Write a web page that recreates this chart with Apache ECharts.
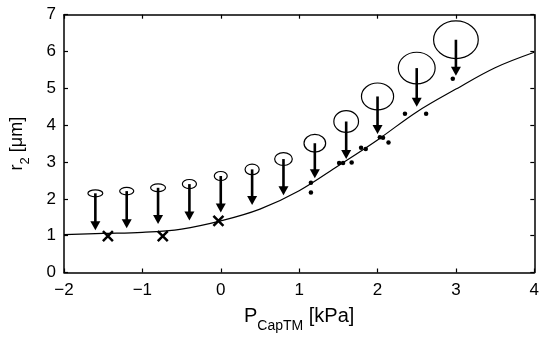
<!DOCTYPE html>
<html>
<head>
<meta charset="utf-8">
<script src="https://cdn.jsdelivr.net/npm/echarts@6/dist/echarts.min.js"></script>
<style>html,body{margin:0;padding:0;background:#fff}#c{width:547px;height:344px}</style>
</head>
<body>
<div id="c"></div>
<script>
// Fitted curve
const curveX = [-2, -1.5, -1, -0.5, 0, 0.5, 1, 1.5, 2, 2.5, 3, 3.5, 4];
const curveY = [1.03, 1.06, 1.09, 1.18, 1.40, 1.72, 2.22, 2.90, 3.60, 4.36, 4.98, 5.56, 5.98];

// Ellipses with arrows: x position, ellipse centre, arrow tip, ellipse width (kPa), ellipse height (um)
const ellX   = [-1.6, -1.2, -0.8, -0.4, 0, 0.4, 0.8, 1.2, 1.6, 2.0, 2.5, 3.0];
const ellY   = [2.15, 2.21, 2.30, 2.40, 2.62, 2.80, 3.08, 3.51, 4.10, 4.78, 5.55, 6.32];
const tipY   = [1.15, 1.20, 1.32, 1.41, 1.63, 1.83, 2.10, 2.56, 3.08, 3.76, 4.50, 5.34];
const ellW   = [0.19, 0.18, 0.19, 0.18, 0.165, 0.18, 0.225, 0.276, 0.315, 0.41, 0.47, 0.57];
const ellH   = [0.19, 0.20, 0.21, 0.25, 0.245, 0.29, 0.35, 0.48, 0.59, 0.73, 0.86, 1.02];

// Crosses
const crossX = [-1.44, -0.74, -0.03];
const crossY = [0.99, 0.99, 1.40];

// Dots
const dotX = [1.15, 1.15, 1.51, 1.56, 1.67, 1.79, 1.85, 2.03, 2.07, 2.14, 2.35, 2.62, 2.96];
const dotY = [2.44, 2.17, 2.97, 2.97, 2.99, 3.39, 3.35, 3.67, 3.66, 3.53, 4.31, 4.31, 5.26];

// Axis ticks
const xTicks = {min: -2, max: 4, step: 1};
const yTicks = {min: 0, max: 7, step: 1};

const FONT = 'Liberation Sans, Arial, sans-serif';
const chart = echarts.init(document.getElementById('c'));

const axisLine = {onZero: false, lineStyle: {color: '#000', width: 1.5}};
const axisTick = {inside: true, length: 4, lineStyle: {color: '#000', width: 1.2}};
const fmt = v => v < 0 ? '\u2212' + (-v) : String(v);

chart.setOption({
  animation: false,
  backgroundColor: '#fff',
  grid: {left: 63.5, right: 12.7, top: 14.7, bottom: 71.5},
  xAxis: [{
    type: 'value', min: xTicks.min, max: xTicks.max, interval: xTicks.step, position: 'bottom',
    axisLine, axisTick, splitLine: {show: false},
    axisLabel: {color: '#000', fontSize: 17, fontFamily: FONT, margin: 9, formatter: fmt},
    name: '{a|P}{b|CapTM}{a| [kPa]}', nameLocation: 'middle', nameGap: 30,
    nameTextStyle: {rich: {
      a: {fontSize: 20, fontFamily: FONT, color: '#000', verticalAlign: 'bottom', lineHeight: 24},
      b: {fontSize: 14, fontFamily: FONT, color: '#000', verticalAlign: 'bottom', lineHeight: 24, padding: [0, 0, -7, 0]}
    }}
  }, {
    type: 'value', min: xTicks.min, max: xTicks.max, interval: xTicks.step, position: 'top',
    axisLine, axisTick, splitLine: {show: false}, axisLabel: {show: false}
  }],
  yAxis: [{
    type: 'value', min: yTicks.min, max: yTicks.max, interval: yTicks.step, position: 'left',
    axisLine, axisTick, splitLine: {show: false},
    axisLabel: {color: '#000', fontSize: 17, fontFamily: FONT, margin: 8, formatter: fmt},
    name: '{a|r}{b|2}{a| [\u03bcm]}', nameLocation: 'middle', nameGap: 38, nameRotate: 90,
    nameTextStyle: {rich: {
      a: {fontSize: 18, fontFamily: FONT, color: '#000', verticalAlign: 'bottom', lineHeight: 22},
      b: {fontSize: 13, fontFamily: FONT, color: '#000', verticalAlign: 'bottom', lineHeight: 22, padding: [0, 0, -6, 0]}
    }}
  }, {
    type: 'value', min: yTicks.min, max: yTicks.max, interval: yTicks.step, position: 'right',
    axisLine, axisTick, splitLine: {show: false}, axisLabel: {show: false}
  }],
  series: [
    {
      type: 'line', data: curveX.map((x, i) => [x, curveY[i]]), smooth: 0.35,
      showSymbol: false, symbol: 'none', lineStyle: {color: '#000', width: 1.2}
    },
    {
      type: 'custom',
      data: ellX.map((x, i) => [x, ellY[i], ellW[i], ellH[i]]),
      encode: {x: 0, y: 1},
      renderItem: (params, api) => {
        const c = api.coord([api.value(0), api.value(1)]);
        const s = api.size([api.value(2), api.value(3)]);
        return {type: 'ellipse', shape: {cx: c[0], cy: c[1], rx: s[0] / 2, ry: s[1] / 2},
          style: {fill: 'none', stroke: '#000', lineWidth: 1.2}};
      }
    },
    {
      type: 'custom',
      data: ellX.map((x, i) => [x, ellY[i], tipY[i]]),
      encode: {x: 0, y: [1, 2]},
      renderItem: (params, api) => {
        const a = api.coord([api.value(0), api.value(1)]);
        const b = api.coord([api.value(0), api.value(2)]);
        const hh = 9, hw = 5;
        return {type: 'group', children: [
          {type: 'line', shape: {x1: a[0], y1: a[1], x2: b[0], y2: b[1] - hh + 1},
            style: {stroke: '#000', lineWidth: 2.6}},
          {type: 'polygon', shape: {points: [[b[0] - hw, b[1] - hh], [b[0] + hw, b[1] - hh], [b[0], b[1]]]},
            style: {fill: '#000'}}
        ]};
      }
    },
    {
      type: 'scatter', data: crossX.map((x, i) => [x, crossY[i]]),
      symbol: 'path://M0,0L10,10M10,0L0,10', symbolSize: 10,
      itemStyle: {color: 'rgba(0,0,0,0)', borderColor: '#000', borderWidth: 2.5, opacity: 1}
    },
    {
      type: 'scatter', data: dotX.map((x, i) => [x, dotY[i]]),
      symbol: 'circle', symbolSize: 4.5, itemStyle: {color: '#000', opacity: 1}
    }
  ]
});
</script>
</body>
</html>
